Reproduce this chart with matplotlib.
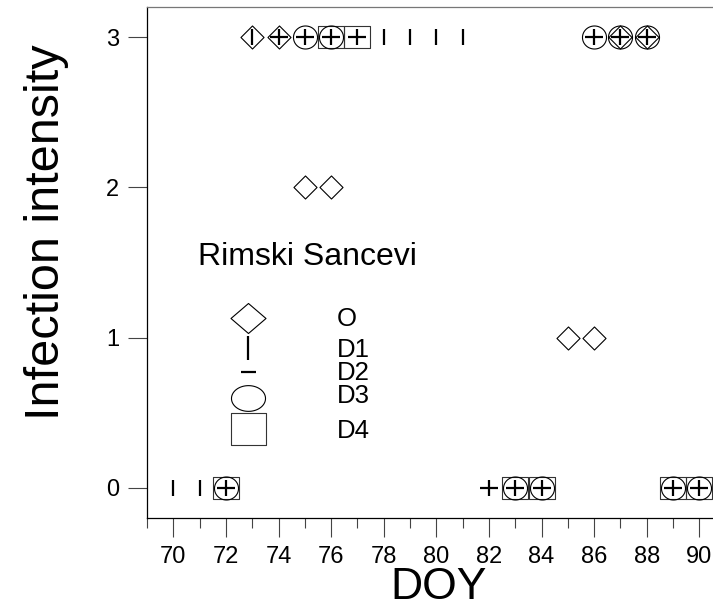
import matplotlib
matplotlib.use("Agg")
import matplotlib.pyplot as plt
import numpy as np
from matplotlib.path import Path

plt.rcParams['font.family'] = ['Liberation Sans', 'DejaVu Sans']

# ---------------- data ----------------
days_O = [73, 74, 75, 76, 85, 86, 87, 88]
vals_O = [3, 3, 2, 2, 1, 1, 3, 3]
days_D1 = [70, 71, 72, 73, 74, 75, 76, 77, 78, 79, 80, 81, 82, 83, 84, 86, 87, 88, 89, 90]
vals_D1 = [0, 0, 0, 3, 3, 3, 3, 3, 3, 3, 3, 3, 0, 0, 0, 3, 3, 3, 0, 0]
days_D2 = [72, 74, 75, 76, 77, 82, 83, 84, 86, 87, 88, 89, 90]
vals_D2 = [0, 3, 3, 3, 3, 0, 0, 0, 3, 3, 3, 0, 0]
days_D3 = [72, 75, 76, 83, 84, 86, 87, 88, 89, 90]
vals_D3 = [0, 3, 3, 0, 0, 3, 3, 3, 0, 0]
days_D4 = [72, 76, 77, 83, 84, 89, 90]
vals_D4 = [0, 3, 3, 0, 0, 0, 0]

series_labels = ["O", "D1", "D2", "D3", "D4"]
legend_title = "Rimski Sancevi"
x_ticks = list(range(70, 91, 2))
x_minor = list(range(69, 92, 2))
y_ticks = [0, 1, 2, 3]


# ---------------- marker shapes ----------------
def diamond(b=1.0):
    return Path([(-1, 0), (0, b), (1, 0), (0, -b), (-1, 0)], closed=True)


def ellipse(b=1.0):
    t = np.linspace(0, 2 * np.pi, 73)
    return Path(np.column_stack([np.cos(t), b * np.sin(t)]), closed=True)


def rect(h=1.0):
    return Path([(-1, -h), (1, -h), (1, h), (-1, h), (-1, -h)], closed=True)


fig = plt.figure(figsize=(7.13, 6.09), dpi=100)
ax = fig.add_axes([147 / 713, 91 / 609, 578.6 / 713, 511 / 609])

shape_lw = 0.8
line_lw = 1.6

ax.plot(days_D4, vals_D4, linestyle='none', marker=rect(23 / 26.7), ms=19.2,
        mew=shape_lw, mfc='none', mec='#333333')
ax.plot(days_D3, vals_D3, linestyle='none', marker=ellipse(23 / 24), ms=17.3,
        mew=shape_lw, mfc='none', mec='black')
ax.plot(days_O, vals_O, linestyle='none', marker=diamond(1.0), ms=16.6,
        mew=shape_lw, mfc='none', mec='black')
ax.plot(days_D1, vals_D1, linestyle='none', marker='|', ms=12.2,
        mew=line_lw, mec='black')
ax.plot(days_D2, vals_D2, linestyle='none', marker='_', ms=13.0,
        mew=line_lw, mec='black')

ax.set_xlim(69, 91)
ax.set_ylim(-0.2, 3.2)
ax.set_xticks(x_ticks)
ax.set_xticks(x_minor, minor=True)
ax.set_yticks(y_ticks)

ax.tick_params(axis='x', which='major', length=14, width=0.8, color='#444444',
               labelsize=17, pad=6)
ax.tick_params(axis='x', which='minor', length=7, width=0.8, color='#444444')
ax.tick_params(axis='y', which='major', length=14, width=0.8, color='#444444',
               labelsize=17, pad=6)

ax.spines['top'].set_color('#777777')
ax.spines['top'].set_linewidth(0.9)
for s in ['left', 'bottom']:
    ax.spines[s].set_linewidth(0.9)
    ax.spines[s].set_color('black')

# axis labels
fig.text(47 / 713, 1 - 232 / 609, 'Infection intensity', rotation=90,
         fontsize=35, ha='center', va='center')
fig.text(439 / 713, (609 - 599) / 609, 'DOY', fontsize=32, ha='center',
         va='baseline')

# ---------------- manual legend ----------------
ax.text(0.0881, 0.4951, legend_title, transform=ax.transAxes, fontsize=23,
        ha='left', va='baseline')

leg_x = (248 - 147) / 578.6
leg_markers = [
    dict(marker=diamond(30 / 35), ms=25.2, mew=shape_lw, mfc='none', mec='black'),
    dict(marker='|', ms=16.6, mew=line_lw, mec='black'),
    dict(marker='_', ms=10.8, mew=line_lw, mec='black'),
    dict(marker=ellipse(0.756), ms=24.5, mew=shape_lw, mfc='none', mec='black'),
    dict(marker=rect(0.906), ms=25.2, mew=shape_lw, mfc='none', mec='#333333'),
]
leg_marker_y = [318, 348, 372.3, 398, 429]
leg_text_base = [326.5, 356.7, 380.5, 403.3, 438.3]
for lab, mk, my, ty in zip(series_labels, leg_markers, leg_marker_y, leg_text_base):
    ax.plot([leg_x], [(518 - my) / 511], transform=ax.transAxes, linestyle='none',
            clip_on=False, **mk)
    ax.text(0.3284, (518 - ty) / 511, lab, transform=ax.transAxes, fontsize=18.5,
            ha='left', va='baseline')

fig.savefig('out.png', dpi=100)
